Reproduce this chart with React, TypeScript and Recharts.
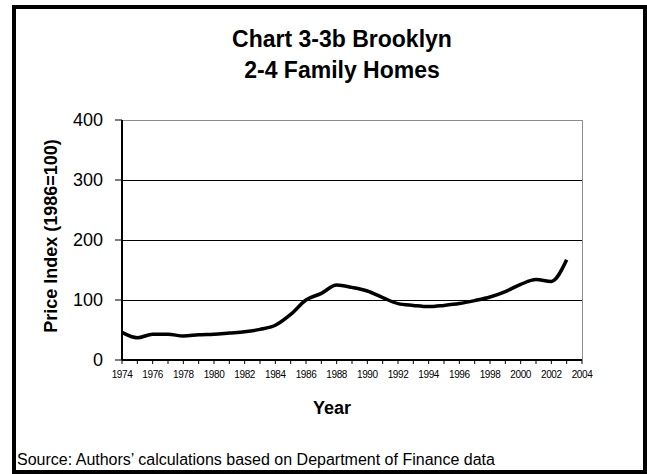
import React from 'react';
import { LineChart, Line, XAxis, YAxis, CartesianGrid, ReferenceLine } from 'recharts';

const years = [
  1974, 1975, 1976, 1977, 1978, 1979, 1980, 1981, 1982, 1983,
  1984, 1985, 1986, 1987, 1988, 1989, 1990, 1991, 1992, 1993,
  1994, 1995, 1996, 1997, 1998, 1999, 2000, 2001, 2002, 2003,
];
const priceIndex = [
  46, 37, 43, 43, 40, 42, 43, 45, 47, 51,
  58, 76, 100, 111, 125, 121, 115, 104, 94, 91,
  89, 91, 94, 99, 105, 114, 126, 134, 131, 167,
];
const xTicks = [
  1974, 1975, 1976, 1977, 1978, 1979, 1980, 1981, 1982, 1983, 1984,
  1985, 1986, 1987, 1988, 1989, 1990, 1991, 1992, 1993, 1994, 1995,
  1996, 1997, 1998, 1999, 2000, 2001, 2002, 2003, 2004,
];
const yTicks = [0, 100, 200, 300, 400];

const data = years.map((year, i) => ({ year, value: priceIndex[i] }));

const FONT = "'Liberation Sans', Arial, sans-serif";

const App: React.FC = () => {
  return (
    <div style={{ position: 'absolute', left: 0, top: 0, width: 647, height: 474, background: '#fff', fontFamily: FONT }}>
      <div
        style={{
          position: 'absolute', left: 12, top: 5, width: 635, height: 469,
          border: '4px solid #000', boxSizing: 'border-box',
        }}
      />
      <div style={{ position: 'absolute', left: 0, top: 0 }}>
        <LineChart width={647} height={474} data={data} margin={{ top: 120, right: 65, bottom: 54, left: 62 }}>
          <CartesianGrid vertical={false} stroke="#000" strokeWidth={1} shapeRendering="crispEdges" />
          <XAxis
            dataKey="year"
            type="number"
            domain={[1974, 2004]}
            ticks={xTicks}
            interval={0}
            height={60}
            tickFormatter={(v: number) => (v % 2 === 0 ? String(v) : '')}
            axisLine={{ stroke: '#000', strokeWidth: 2 }}
            tickLine={{ stroke: '#000', strokeWidth: 1 }}
            tickSize={4}
            tickMargin={7}
            tick={{ fill: '#000', fontSize: 10, fontFamily: FONT, letterSpacing: -0.4 }}
          />
          <YAxis
            type="number"
            domain={[0, 400]}
            ticks={yTicks}
            interval={0}
            width={60}
            axisLine={{ stroke: '#000', strokeWidth: 2 }}
            tickLine={{ stroke: '#000', strokeWidth: 1 }}
            tickSize={7}
            tickMargin={12}
            tick={{ fill: '#000', fontSize: 18, fontFamily: FONT }}
          />
          <ReferenceLine y={400} stroke="#8c8c8c" strokeWidth={1} shapeRendering="crispEdges" />
          <ReferenceLine x={2004} stroke="#8c8c8c" strokeWidth={1} shapeRendering="crispEdges" />
          <Line
            type="monotone"
            dataKey="value"
            stroke="#000"
            strokeWidth={3.5}
            dot={false}
            isAnimationActive={false}
          />
        </LineChart>
      </div>
      <div style={{ position: 'absolute', left: 142, width: 400, top: 24, textAlign: 'center', fontWeight: 'bold', fontSize: 23, lineHeight: '31px' }}>
        Chart 3-3b Brooklyn
        <br />
        2-4 Family Homes
      </div>
      <div
        style={{
          position: 'absolute', left: 51, top: 236, width: 260, marginLeft: -130, marginTop: -11,
          height: 22, lineHeight: '22px', textAlign: 'center', fontWeight: 'bold', fontSize: 18,
          transform: 'rotate(-90deg)',
        }}
      >
        Price Index (1986=100)
      </div>
      <div style={{ position: 'absolute', left: 282, width: 100, top: 398, textAlign: 'center', fontWeight: 'bold', fontSize: 18, lineHeight: '20px' }}>
        Year
      </div>
      <div style={{ position: 'absolute', left: 17, top: 451, fontSize: 16, lineHeight: '18px', whiteSpace: 'nowrap' }}>
        Source: Authors’ calculations based on Department of Finance data
      </div>
    </div>
  );
};

export default App;
